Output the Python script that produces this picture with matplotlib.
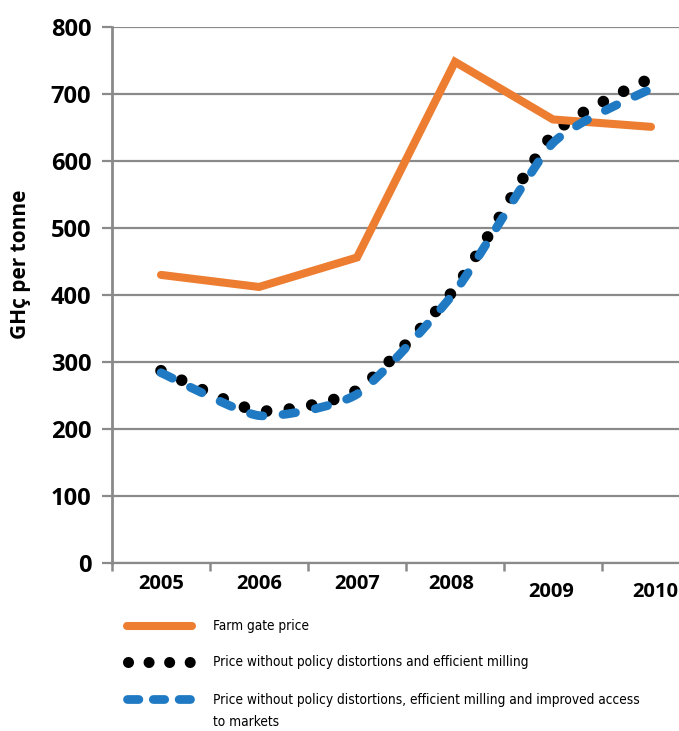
import numpy as np
import matplotlib
matplotlib.use("Agg")
import matplotlib.pyplot as plt
from matplotlib.path import Path
from matplotlib.patches import PathPatch
from matplotlib.lines import Line2D
import matplotlib.transforms as mtrans

# values (GHc per tonne)
years = ["2005", "2006", "2007", "2008", "2009", "2010"]
farm_gate = [430, 412, 456, 748, 662, 651]
no_distortion = [287, 227, 258, 410, 640, 724]
improved_access = [284, 220, 252, 405, 627, 708]

labels = ["Farm gate price",
          "Price without policy distortions and efficient milling",
          "Price without policy distortions, efficient milling and improved access\nto markets"]

ORANGE = "#ED7D31"
BLUE = "#1F7AC3"
GRID = "#8a8a8a"
tick_font = "Open Sans"
legend_font = ["DejaVu Sans"]


def smooth_path(xs, ys, k=0.1):
    # lightly smoothed line: bezier segments through the data points
    pts = np.column_stack([xs, ys]).astype(float)
    p = np.vstack([pts[0], pts, pts[-1]])
    verts = [pts[0]]
    codes = [Path.MOVETO]
    for i in range(len(pts) - 1):
        p0, p1, p2, p3 = p[i], p[i + 1], p[i + 2], p[i + 3]
        verts += [p1 + (p2 - p0) * k, p2 - (p3 - p1) * k, p2]
        codes += [Path.CURVE4] * 3
    return Path(verts, codes)


fig = plt.figure(figsize=(6.79, 7.31), dpi=100)
ax = fig.add_axes([112 / 679, 168 / 731, 588 / 679, 536 / 731])

x = np.arange(len(years))

# dotted series
dots = PathPatch(smooth_path(x, no_distortion), fill=False, edgecolor="black",
                 linewidth=8.4, linestyle=(0, (0.001, 1.95)), capstyle="round", zorder=3)
ax.add_patch(dots)
# farm gate (straight segments)
ax.plot(x, farm_gate, color=ORANGE, lw=5.8, solid_capstyle="round",
        solid_joinstyle="miter", zorder=4)
# dashed series
dash = PathPatch(smooth_path(x, improved_access), fill=False, edgecolor=BLUE,
                 linewidth=6.3, linestyle=(0, (1.45, 2.3)), capstyle="round", zorder=5)
ax.add_patch(dash)

ax.set_xlim(-0.5, len(years) - 0.5)
ax.set_ylim(0, 800)
ax.set_yticks(np.arange(0, 801, 100))
ax.yaxis.grid(True, color=GRID, lw=1.6)
ax.set_axisbelow(True)

for s in ["top", "right"]:
    ax.spines[s].set_visible(False)
ax.spines["left"].set_color(GRID)
ax.spines["left"].set_linewidth(2)
ax.spines["bottom"].set_color(GRID)
ax.spines["bottom"].set_linewidth(1.6)

ax.tick_params(axis="y", length=7, width=1.6, color=GRID, pad=8)
for lab in ax.get_yticklabels():
    lab.set_fontfamily(tick_font)
    lab.set_fontweight("bold")
    lab.set_fontsize(17)

ax.set_xticks(x)
ax.set_xticklabels(years, fontfamily=tick_font, fontweight="bold", fontsize=14.5)
ax.set_xticks(np.arange(-0.5, len(years) - 0.5, 1), minor=True)
ax.tick_params(axis="x", which="major", length=0, pad=8)
ax.tick_params(axis="x", which="minor", length=6, width=1.8, color=GRID)

# last two year labels sit lower in the original
shifts = {3: (-4, 0), 4: (-2, -8), 5: (4, -8)}
for i, lab in enumerate(ax.get_xticklabels()):
    if i in shifts:
        dx, dy = shifts[i]
        lab.set_transform(lab.get_transform() +
                          mtrans.ScaledTranslation(dx / 100, dy / 100, fig.dpi_scale_trans))

ax.set_ylabel("GHç per tonne", fontfamily=tick_font, fontweight="bold", fontsize=15)
ax.yaxis.set_label_coords(-0.138, 0.558)

# legend below the chart
W, H = 679, 731
def fx(px):
    return px / W
def fy(py):
    return 1 - py / H

fig.add_artist(Line2D([fx(127), fx(192)], [fy(626), fy(626)], color=ORANGE, lw=5.8,
                      solid_capstyle="round"))
fig.add_artist(Line2D([fx(128), fx(190)], [fy(662), fy(662)], color="black", lw=8.0,
                      linestyle=(0, (0.001, 1.85)), dash_capstyle="round"))
fig.add_artist(Line2D([fx(127), fx(192)], [fy(699), fy(699)], color=BLUE, lw=6.3,
                      linestyle=(0, (1.3, 1.65)), dash_capstyle="round"))

for txt, py in zip(labels, [626, 662, 711]):
    fig.text(fx(213), fy(py), txt, family=legend_font, fontstretch="condensed",
             fontsize=9.8, va="center", linespacing=1.7)

fig.savefig("out.png", dpi=100)
